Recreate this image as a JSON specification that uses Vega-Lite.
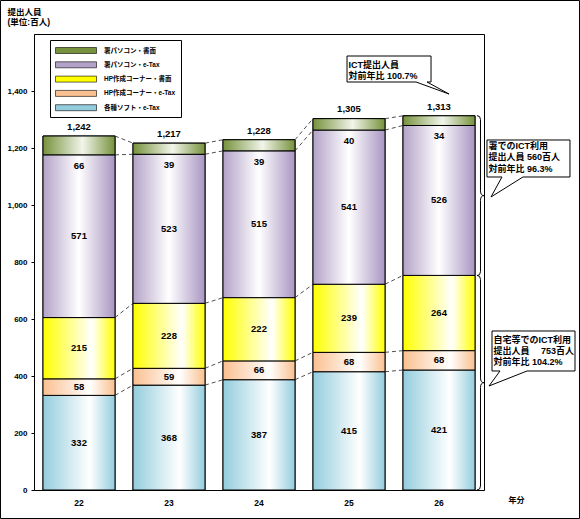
{
  "$schema": "https://vega.github.io/schema/vega-lite/v6.json",
  "width": 450,
  "height": 456,
  "autosize": "none",
  "padding": {"left": 34, "top": 34, "right": 96, "bottom": 29},
  "background": "white",
  "config": {
    "view": {"stroke": "black", "strokeWidth": 1},
    "font": "Liberation Sans, Noto Sans CJK JP"
  },
  "datasets": {
    "bars": [
      {"year": "22", "type": "各種ソフト・e-Tax", "rank": 1, "value": 332},
      {"year": "22", "type": "HP作成コーナー・e-Tax", "rank": 2, "value": 58},
      {"year": "22", "type": "HP作成コーナー・書面", "rank": 3, "value": 215},
      {"year": "22", "type": "署パソコン・e-Tax", "rank": 4, "value": 571},
      {"year": "22", "type": "署パソコン・書面", "rank": 5, "value": 66},
      {"year": "23", "type": "各種ソフト・e-Tax", "rank": 1, "value": 368},
      {"year": "23", "type": "HP作成コーナー・e-Tax", "rank": 2, "value": 59},
      {"year": "23", "type": "HP作成コーナー・書面", "rank": 3, "value": 228},
      {"year": "23", "type": "署パソコン・e-Tax", "rank": 4, "value": 523},
      {"year": "23", "type": "署パソコン・書面", "rank": 5, "value": 39},
      {"year": "24", "type": "各種ソフト・e-Tax", "rank": 1, "value": 387},
      {"year": "24", "type": "HP作成コーナー・e-Tax", "rank": 2, "value": 66},
      {"year": "24", "type": "HP作成コーナー・書面", "rank": 3, "value": 222},
      {"year": "24", "type": "署パソコン・e-Tax", "rank": 4, "value": 515},
      {"year": "24", "type": "署パソコン・書面", "rank": 5, "value": 39},
      {"year": "25", "type": "各種ソフト・e-Tax", "rank": 1, "value": 415},
      {"year": "25", "type": "HP作成コーナー・e-Tax", "rank": 2, "value": 68},
      {"year": "25", "type": "HP作成コーナー・書面", "rank": 3, "value": 239},
      {"year": "25", "type": "署パソコン・e-Tax", "rank": 4, "value": 541},
      {"year": "25", "type": "署パソコン・書面", "rank": 5, "value": 40},
      {"year": "26", "type": "各種ソフト・e-Tax", "rank": 1, "value": 421},
      {"year": "26", "type": "HP作成コーナー・e-Tax", "rank": 2, "value": 68},
      {"year": "26", "type": "HP作成コーナー・書面", "rank": 3, "value": 264},
      {"year": "26", "type": "署パソコン・e-Tax", "rank": 4, "value": 526},
      {"year": "26", "type": "署パソコン・書面", "rank": 5, "value": 34}
    ],
    "totals": [
      {"year": "22", "total": 1242},
      {"year": "23", "total": 1217},
      {"year": "24", "total": 1228},
      {"year": "25", "total": 1305},
      {"year": "26", "total": 1313}
    ],
    "one": [{}]
  },
  "resolve": {"scale": {"x": "independent"}, "axis": {"x": "independent"}},
  "layer": [
    {
      "layer": [
        {
          "data": {"name": "bars"},
          "mark": {"type": "bar", "stroke": "black", "strokeWidth": 1},
          "encoding": {
            "x": {
              "field": "year", "type": "nominal",
              "scale": {"paddingInner": 0.2, "paddingOuter": 0.1},
              "axis": {
                "title": "年分", "titleX": 482, "titleY": 10, "titleAlign": "center", "titleBaseline": "middle",
                "titleFontSize": 8, "titleFontWeight": "bold", "titleColor": "black",
                "labelAngle": 0, "labelFontSize": 8.5, "labelFontWeight": "bold", "labelColor": "black",
                "labelPadding": 8, "domainColor": "black", "ticks": false
              }
            },
            "y": {
              "field": "value", "type": "quantitative", "stack": "zero",
              "scale": {"domain": [0, 1600]},
              "axis": {
                "title": ["提出人員", "(単位:百人)"], "titleAngle": 0, "titleAlign": "left", "titleBaseline": "top",
                "titleX": -27, "titleY": -27, "titleLineHeight": 10, "titleFontSize": 8.5, "titleFontWeight": "bold",
                "titleColor": "black",
                "values": [0, 200, 400, 600, 800, 1000, 1200, 1400], "format": ",d",
                "grid": false, "domainColor": "black", "tickColor": "black", "tickSize": 3,
                "labelFontSize": 8, "labelFontWeight": "bold", "labelColor": "black", "labelPadding": 4
              }
            },
            "order": {"field": "rank", "type": "quantitative"},
            "color": {
              "field": "type", "type": "nominal",
              "scale": {
                "domain": ["署パソコン・書面", "署パソコン・e-Tax", "HP作成コーナー・書面", "HP作成コーナー・e-Tax", "各種ソフト・e-Tax"],
                "range": ["#76923c", "#b3a2c7", "#ffff00", "#fac090", "#93cddd"]
              },
              "legend": {
                "title": null, "orient": "none", "legendX": 16, "legendY": 6,
                "strokeColor": "black", "fillColor": "white", "padding": 5,
                "symbolType": "M-1,-0.6H7.2V0.6H-1Z", "symbolSize": 100,
                "symbolStrokeColor": "black", "symbolStrokeWidth": 0.6,
                "labelFontSize": 6.5, "labelFontWeight": "bold", "labelColor": "black",
                "labelOffset": 38, "rowPadding": 4.3, "labelLimit": 200,
                "encode": {
                  "symbols": {
                    "update": {
                      "fill": {"signal": "datum.value === '署パソコン・書面' ? {gradient:'linear',x1:0,y1:0,x2:1,y2:0,stops:[{offset:0,color:'#76923c'},{offset:0.55,color:'#f2f5ea'},{offset:1,color:'#76923c'}]} : datum.value === '署パソコン・e-Tax' ? {gradient:'linear',x1:0,y1:0,x2:1,y2:0,stops:[{offset:0,color:'#b3a2c7'},{offset:0.5,color:'#ffffff'},{offset:1,color:'#a996c2'}]} : datum.value === 'HP作成コーナー・書面' ? {gradient:'linear',x1:0,y1:0,x2:1,y2:0,stops:[{offset:0,color:'#ffff00'},{offset:0.68,color:'#ffffff'},{offset:1,color:'#ffff00'}]} : datum.value === 'HP作成コーナー・e-Tax' ? {gradient:'linear',x1:0,y1:0,x2:1,y2:0,stops:[{offset:0,color:'#fac090'},{offset:0.65,color:'#ffffff'},{offset:1,color:'#fac090'}]} : {gradient:'linear',x1:0,y1:0,x2:1,y2:0,stops:[{offset:0,color:'#93cddd'},{offset:0.65,color:'#ffffff'},{offset:1,color:'#93cddd'}]}"},
                      "stroke": {"value": "black"}
                    }
                  }
                }
              }
            }
          }
        },
        {
          "data": {"name": "bars"},
          "mark": {"type": "bar", "stroke": "black", "strokeWidth": 1},
          "encoding": {
            "x": {"field": "year", "type": "nominal"},
            "y": {"field": "value", "type": "quantitative", "stack": "zero"},
            "order": {"field": "rank", "type": "quantitative"},
            "detail": {"field": "type"},
            "fill": {
              "condition": [
                {"test": "datum.rank == 5", "value": {"gradient": "linear", "x1": 0, "y1": 0, "x2": 1, "y2": 0, "stops": [{"offset": 0, "color": "#76923c"}, {"offset": 0.55, "color": "#f2f5ea"}, {"offset": 1, "color": "#76923c"}]}},
                {"test": "datum.rank == 4", "value": {"gradient": "linear", "x1": 0, "y1": 0, "x2": 1, "y2": 0, "stops": [{"offset": 0, "color": "#b3a2c7"}, {"offset": 0.5, "color": "#ffffff"}, {"offset": 1, "color": "#a996c2"}]}},
                {"test": "datum.rank == 3", "value": {"gradient": "linear", "x1": 0, "y1": 0, "x2": 1, "y2": 0, "stops": [{"offset": 0, "color": "#ffff00"}, {"offset": 0.68, "color": "#ffffff"}, {"offset": 1, "color": "#ffff00"}]}},
                {"test": "datum.rank == 2", "value": {"gradient": "linear", "x1": 0, "y1": 0, "x2": 1, "y2": 0, "stops": [{"offset": 0, "color": "#fac090"}, {"offset": 0.65, "color": "#ffffff"}, {"offset": 1, "color": "#fac090"}]}}
              ],
              "value": {"gradient": "linear", "x1": 0, "y1": 0, "x2": 1, "y2": 0, "stops": [{"offset": 0, "color": "#93cddd"}, {"offset": 0.65, "color": "#ffffff"}, {"offset": 1, "color": "#93cddd"}]}
            }
          }
        },
        {
          "data": {"name": "bars"},
          "transform": [
            {"stack": "value", "groupby": ["year"], "sort": [{"field": "rank"}], "as": ["s0", "s1"]},
            {"window": [{"op": "lead", "field": "s1", "as": "n1"}, {"op": "lead", "field": "year", "as": "ny"}], "groupby": ["rank"], "sort": [{"field": "year"}]},
            {"filter": "datum.ny != null"}
          ],
          "mark": {"type": "rule", "strokeDash": [4, 3], "color": "#222222", "strokeWidth": 0.8},
          "encoding": {
            "x": {"field": "year", "type": "nominal", "bandPosition": 1},
            "x2": {"field": "ny", "bandPosition": 0},
            "y": {"field": "s1", "type": "quantitative"},
            "y2": {"field": "n1"}
          }
        },
        {
          "data": {"name": "bars"},
          "mark": {"type": "text", "fontSize": 9.5, "fontWeight": "bold", "color": "black", "baseline": "middle"},
          "encoding": {
            "x": {"field": "year", "type": "nominal"},
            "y": {"field": "value", "type": "quantitative", "stack": "zero", "bandPosition": 0.5},
            "order": {"field": "rank", "type": "quantitative"},
            "detail": {"field": "type"},
            "text": {"condition": {"test": "datum.rank < 5", "field": "value", "type": "quantitative"}, "value": ""}
          }
        },
        {
          "data": {"name": "bars"},
          "mark": {"type": "text", "fontSize": 9.5, "fontWeight": "bold", "color": "black", "baseline": "middle", "dy": 11},
          "encoding": {
            "x": {"field": "year", "type": "nominal"},
            "y": {"field": "value", "type": "quantitative", "stack": "zero", "bandPosition": 0},
            "order": {"field": "rank", "type": "quantitative"},
            "detail": {"field": "type"},
            "text": {"condition": {"test": "datum.rank == 5", "field": "value", "type": "quantitative"}, "value": ""}
          }
        },
        {
          "data": {"name": "totals"},
          "mark": {"type": "text", "fontSize": 9.5, "fontWeight": "bold", "color": "black", "baseline": "middle", "dy": -9},
          "encoding": {
            "x": {"field": "year", "type": "nominal"},
            "y": {"field": "total", "type": "quantitative"},
            "text": {"field": "total", "type": "quantitative", "format": ","}
          }
        }
      ]
    },
    {
      "data": {"name": "one"},
      "mark": {"type": "rect", "fill": null, "fillOpacity": 0, "stroke": "black", "strokeWidth": 1},
      "encoding": {
        "x": {"datum": -0.872, "type": "quantitative", "scale": {"domain": [-0.5, 4.5]}, "axis": null},
        "x2": {"datum": 5.561},
        "y": {"datum": 1717.5, "type": "quantitative"},
        "y2": {"datum": -100}
      }
    },
    {
      "data": {"name": "one"},
      "mark": {"type": "point", "shape": "M-0.044,-1Q0,-1 0,-0.95L0,-0.06Q0,0 0.044,0Q0,0 0,0.06L0,0.95Q0,1 -0.044,1", "size": 25600, "filled": false, "stroke": "black", "strokeWidth": 1, "opacity": 1},
      "encoding": {
        "x": {"datum": 4.461, "type": "quantitative", "scale": {"domain": [-0.5, 4.5]}, "axis": null},
        "y": {"datum": 1033, "type": "quantitative"}
      }
    },
    {
      "data": {"name": "one"},
      "mark": {"type": "point", "shape": "M-0.033,-1Q0,-1 0,-0.963L0,-0.045Q0,0 0.033,0Q0,0 0,0.045L0,0.963Q0,1 -0.033,1", "size": 46053, "filled": false, "stroke": "black", "strokeWidth": 1, "opacity": 1},
      "encoding": {
        "x": {"datum": 4.461, "type": "quantitative", "scale": {"domain": [-0.5, 4.5]}, "axis": null},
        "y": {"datum": 376.5, "type": "quantitative"}
      }
    },
    {
      "data": {"name": "one"},
      "mark": {"type": "point", "shape": "M0,0H0.84V0.26H0.8L1.02,0.38L0.69,0.26H0Z", "size": 40000, "filled": true, "fill": "white", "stroke": "black", "strokeWidth": 1, "opacity": 1},
      "encoding": {
        "x": {"datum": 2.978, "type": "quantitative", "scale": {"domain": [-0.5, 4.5]}, "axis": null},
        "y": {"datum": 1522.8, "type": "quantitative"}
      }
    },
    {
      "data": {"name": "one"},
      "mark": {"type": "point", "shape": "M0,0H0.83V0.37H0.36L0.04,0.57L0.15,0.37H0Z", "size": 40000, "filled": true, "fill": "white", "stroke": "black", "strokeWidth": 1, "opacity": 1},
      "encoding": {
        "x": {"datum": 4.533, "type": "quantitative", "scale": {"domain": [-0.5, 4.5]}, "axis": null},
        "y": {"datum": 1228.1, "type": "quantitative"}
      }
    },
    {
      "data": {"name": "one"},
      "mark": {"type": "point", "shape": "M0,0H0.83V0.4H0.35L-0.03,0.55L0.08,0.4H0Z", "size": 40000, "filled": true, "fill": "white", "stroke": "black", "strokeWidth": 1, "opacity": 1},
      "encoding": {
        "x": {"datum": 4.589, "type": "quantitative", "scale": {"domain": [-0.5, 4.5]}, "axis": null},
        "y": {"datum": 557.9, "type": "quantitative"}
      }
    },
    {
      "data": {"name": "one"},
      "mark": {"type": "text", "text": ["ICT提出人員", "対前年比  100.7%"], "align": "left", "baseline": "top", "fontSize": 9, "fontWeight": "bold", "lineHeight": 11, "color": "black"},
      "encoding": {
        "x": {"datum": 2.994, "type": "quantitative", "scale": {"domain": [-0.5, 4.5]}, "axis": null},
        "y": {"datum": 1507, "type": "quantitative"}
      }
    },
    {
      "data": {"name": "one"},
      "mark": {"type": "text", "text": ["署でのICT利用", "提出人員  560百人", "対前年比  96.3%"], "align": "left", "baseline": "top", "fontSize": 9, "fontWeight": "bold", "lineHeight": 11.3, "color": "black"},
      "encoding": {
        "x": {"datum": 4.55, "type": "quantitative", "scale": {"domain": [-0.5, 4.5]}, "axis": null},
        "y": {"datum": 1220.4, "type": "quantitative"}
      }
    },
    {
      "data": {"name": "one"},
      "mark": {"type": "text", "text": ["自宅等でのICT利用", "提出人員　 753百人", "対前年比  104.2%"], "align": "left", "baseline": "top", "fontSize": 9, "fontWeight": "bold", "lineHeight": 11, "color": "black"},
      "encoding": {
        "x": {"datum": 4.606, "type": "quantitative", "scale": {"domain": [-0.5, 4.5]}, "axis": null},
        "y": {"datum": 539.6, "type": "quantitative"}
      }
    }
  ]
}
